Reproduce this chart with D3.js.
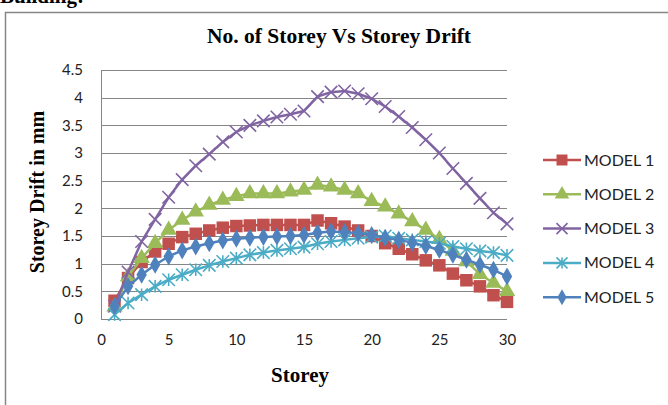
<!DOCTYPE html>
<html>
<head>
<meta charset="utf-8">
<script src="https://cdn.jsdelivr.net/npm/d3@7"></script>
<style>
  body { margin: 0; background: #fff; }
  svg { display: block; }
  .tick text { font-family: Lato, "Open Sans", sans-serif; font-size: 15px; fill: #222; }
</style>
</head>
<body>
<svg id="chart" width="668" height="405"></svg>
<script>
// storeys 1..30
var storeys = d3.range(1, 31);

var model1 = [0.33, 0.74, 1.03, 1.22, 1.36, 1.48, 1.54, 1.60, 1.65, 1.68, 1.69, 1.70, 1.70, 1.70, 1.70,
              1.78, 1.73, 1.67, 1.60, 1.50, 1.37, 1.27, 1.17, 1.06, 0.97, 0.82, 0.70, 0.59, 0.43, 0.31];
var model2 = [0.22, 0.77, 1.10, 1.37, 1.61, 1.79, 1.94, 2.06, 2.15, 2.22, 2.27, 2.27, 2.27, 2.30, 2.33,
              2.42, 2.39, 2.33, 2.27, 2.13, 2.03, 1.90, 1.76, 1.61, 1.44, 1.23, 1.04, 0.81, 0.65, 0.50];
var model3 = [0.23, 0.85, 1.40, 1.80, 2.20, 2.52, 2.77, 2.98, 3.20, 3.38, 3.50, 3.58, 3.65, 3.70, 3.76,
              4.02, 4.10, 4.12, 4.07, 3.98, 3.84, 3.66, 3.46, 3.24, 3.00, 2.72, 2.45, 2.18, 1.92, 1.72];
var model4 = [0.08, 0.29, 0.44, 0.59, 0.71, 0.80, 0.89, 0.97, 1.04, 1.10, 1.16, 1.20, 1.24, 1.27, 1.30,
              1.36, 1.40, 1.43, 1.46, 1.48, 1.50, 1.46, 1.43, 1.40, 1.37, 1.31, 1.27, 1.23, 1.20, 1.15];
var model5 = [0.23, 0.59, 0.80, 0.98, 1.13, 1.24, 1.31, 1.37, 1.42, 1.45, 1.47, 1.48, 1.49, 1.50, 1.52,
              1.56, 1.58, 1.57, 1.55, 1.52, 1.47, 1.43, 1.38, 1.32, 1.25, 1.16, 1.07, 0.98, 0.89, 0.77];

var seriesNames = ['MODEL 1', 'MODEL 2', 'MODEL 3', 'MODEL 4', 'MODEL 5'];
var seriesColors = ['#C0504D', '#9BBB59', '#8064A2', '#4BACC6', '#4F81BD'];
var seriesMarkers = ['square', 'triangle', 'x', 'star', 'diamond'];
var seriesValues = [model1, model2, model3, model4, model5];

var xTicks = [0, 5, 10, 15, 20, 25, 30];
var yTicks = [0, 0.5, 1, 1.5, 2, 2.5, 3, 3.5, 4, 4.5];

var svg = d3.select('#chart');
var plot = { left: 101, right: 507, top: 70, bottom: 319 };

var x = d3.scaleLinear().domain([0, 30]).range([plot.left, plot.right]);
var y = d3.scaleLinear().domain([0, 4.5]).range([plot.bottom, plot.top]);

var serif = '"Liberation Serif", "Times New Roman", serif';

// caption of the page above the chart, cut by the top edge as in the source
svg.append('text')
    .attr('x', 0).attr('y', 3)
    .style('font-family', serif)
    .style('font-weight', 'bold').style('font-size', '21px')
    .text('Building:');

// chart frame
svg.append('rect')
    .attr('x', 5.5).attr('y', 12.5)
    .attr('width', 700).attr('height', 500)
    .attr('fill', 'none').attr('stroke', '#868686').attr('stroke-width', 1.5);

// gridlines
svg.append('g')
    .selectAll('line')
    .data(yTicks)
    .enter()
    .append('line')
    .attr('x1', plot.left).attr('x2', plot.right)
    .attr('y1', function(d) { return Math.round(y(d)) + 0.5; })
    .attr('y2', function(d) { return Math.round(y(d)) + 0.5; })
    .attr('stroke', '#868686').attr('stroke-width', 1);

// left axis line
svg.append('line')
    .attr('x1', plot.left + 0.5).attr('x2', plot.left + 0.5)
    .attr('y1', plot.top).attr('y2', plot.bottom)
    .attr('stroke', '#868686');

// axes (labels only)
var xAxis = svg.append('g')
    .attr('transform', 'translate(0,' + plot.bottom + ')')
    .call(d3.axisBottom(x).tickValues(xTicks).tickSize(0).tickPadding(15));
xAxis.select('.domain').remove();

var yAxis = svg.append('g')
    .attr('transform', 'translate(' + plot.left + ',0)')
    .call(d3.axisLeft(y).tickValues(yTicks).tickSize(0).tickPadding(18)
        .tickFormat(function(d) { return String(d); }));
yAxis.select('.domain').remove();

// titles
svg.append('text')
    .attr('x', 339).attr('y', 43)
    .attr('text-anchor', 'middle')
    .style('font-family', serif).style('font-weight', 'bold').style('font-size', '21.5px')
    .text('No. of Storey Vs Storey Drift');

svg.append('text')
    .attr('x', 300).attr('y', 382)
    .attr('text-anchor', 'middle')
    .style('font-family', serif).style('font-weight', 'bold').style('font-size', '21px')
    .text('Storey');

svg.append('text')
    .attr('transform', 'translate(44,192) rotate(-90)')
    .attr('text-anchor', 'middle')
    .style('font-family', serif).style('font-weight', 'bold').style('font-size', '20px')
    .text('Storey Drift in mm');

// marker drawing
function drawMarker(g, type, color, size) {
    if (type === 'square') {
        g.append('path').attr('d', d3.symbol().type(d3.symbolSquare).size(size * size)())
            .attr('fill', color);
    } else if (type === 'triangle') {
        g.append('path').attr('d', d3.symbol().type(d3.symbolTriangle).size(size * size * 0.75)())
            .attr('fill', color);
    } else if (type === 'diamond') {
        g.append('path').attr('d', d3.symbol().type(d3.symbolDiamond).size(size * size * 0.6)())
            .attr('fill', color);
    } else if (type === 'x') {
        var h = size / 2;
        g.append('path').attr('d', 'M' + (-h) + ',' + (-h) + 'L' + h + ',' + h + 'M' + (-h) + ',' + h + 'L' + h + ',' + (-h))
            .attr('stroke', color).attr('stroke-width', 1.6).attr('fill', 'none');
    } else if (type === 'star') {
        var s = size / 2;
        g.append('path').attr('d', 'M' + (-s) + ',' + (-s) + 'L' + s + ',' + s + 'M' + (-s) + ',' + s + 'L' + s + ',' + (-s) +
                'M0,' + (-s) + 'L0,' + s)
            .attr('stroke', color).attr('stroke-width', 1.6).attr('fill', 'none');
    }
}

var line = d3.line()
    .x(function(d) { return x(d.storey); })
    .y(function(d) { return y(d.value); });

seriesValues.forEach(function(vals, i) {
    var pts = vals.map(function(v, j) { return { storey: storeys[j], value: v }; });
    var g = svg.append('g');
    g.append('path')
        .datum(pts)
        .attr('d', line)
        .attr('fill', 'none')
        .attr('stroke', seriesColors[i])
        .attr('stroke-width', 2.5)
        .attr('stroke-linejoin', 'round');
    pts.forEach(function(p) {
        var mg = g.append('g').attr('transform', 'translate(' + x(p.storey) + ',' + y(p.value) + ')');
        drawMarker(mg, seriesMarkers[i], seriesColors[i], 12.5);
    });
});

// legend
var legend = svg.append('g').attr('transform', 'translate(543,160)');
seriesNames.forEach(function(name, i) {
    var row = legend.append('g').attr('transform', 'translate(0,' + (i * 34.3) + ')');
    row.append('line')
        .attr('x1', 0).attr('x2', 38).attr('y1', 0).attr('y2', 0)
        .attr('stroke', seriesColors[i]).attr('stroke-width', 2.5);
    var mg = row.append('g').attr('transform', 'translate(19,0)');
    drawMarker(mg, seriesMarkers[i], seriesColors[i], 11);
    row.append('text')
        .attr('x', 41).attr('y', 5.5)
        .style('font-family', 'Lato, "Open Sans", sans-serif').style('font-size', '16px').style('fill', '#222')
        .text(name);
});
</script>
</body>
</html>
